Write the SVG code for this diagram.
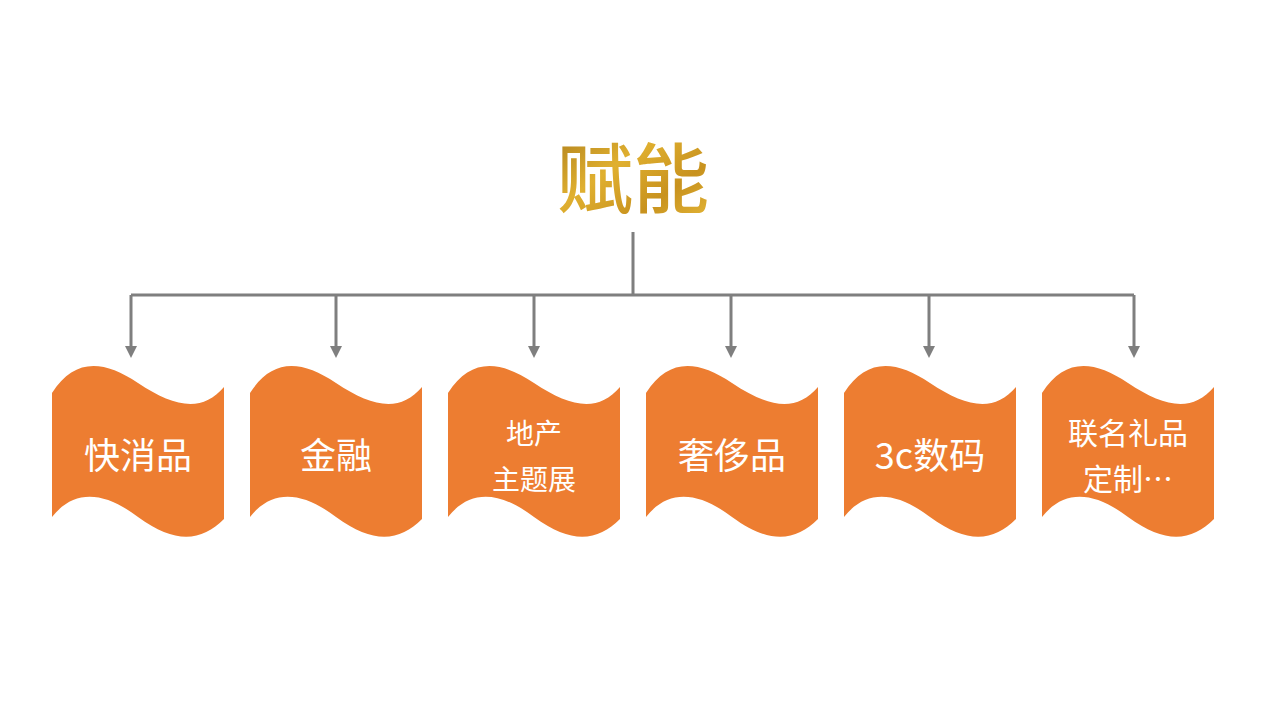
<svg xmlns="http://www.w3.org/2000/svg" width="1280" height="720" viewBox="0 0 1280 720">
<defs>
<linearGradient id="gold" x1="0" y1="0" x2="1" y2="1">
<stop offset="0" stop-color="#a8791a"/><stop offset="0.4" stop-color="#e0b030"/><stop offset="0.7" stop-color="#c8921e"/><stop offset="1" stop-color="#e8bb3a"/>
</linearGradient>
<marker id="ah" markerWidth="12" markerHeight="12" refX="6" refY="6" orient="auto" markerUnits="userSpaceOnUse" viewBox="0 0 12 12"><path d="M0,0 L12,6 L0,12 Z" fill="#7f7f7f"/></marker>
<path id="wave" d="M0,28 C22,-6 50,-6 86,18 C122,42 150,48 172,22 L172,154 C150,176 124,180 86,152 C52,126 22,124 0,152 Z"/>
</defs>
<style>
.box{fill:#ed7d31}
.t{font-family:"Noto Sans CJK SC","Liberation Sans",sans-serif;fill:#fff;text-anchor:middle}
.c{stroke:#7f7f7f;stroke-width:3;fill:none}
</style>
<text x="633" y="207" font-family="Noto Sans CJK SC, sans-serif" font-size="76" font-weight="500" fill="url(#gold)" text-anchor="middle">赋能</text>
<g id="connectors">
<path class="c" d="M633,232 V295 M131,295 H1134"/>
<path class="c" d="M131,295 V352" marker-end="url(#ah)"/>
<path class="c" d="M336,295 V352" marker-end="url(#ah)"/>
<path class="c" d="M534,295 V352" marker-end="url(#ah)"/>
<path class="c" d="M731,295 V352" marker-end="url(#ah)"/>
<path class="c" d="M929,295 V352" marker-end="url(#ah)"/>
<path class="c" d="M1134,295 V352" marker-end="url(#ah)"/>
</g>
<g id="n1"><use href="#wave" class="box" transform="translate(52,365)"/><text class="t" x="138" y="469" font-size="36">快消品</text></g>
<g id="n2"><use href="#wave" class="box" transform="translate(250,365)"/><text class="t" x="336" y="469" font-size="36">金融</text></g>
<g id="n3"><use href="#wave" class="box" transform="translate(448,365)"/><text class="t" x="534" y="444" font-size="28">地产</text><text class="t" x="534" y="490" font-size="28">主题展</text></g>
<g id="n4"><use href="#wave" class="box" transform="translate(646,365)"/><text class="t" x="732" y="469" font-size="36">奢侈品</text></g>
<g id="n5"><use href="#wave" class="box" transform="translate(844,365)"/><text class="t" x="930" y="469" font-size="36">3c数码</text></g>
<g id="n6"><use href="#wave" class="box" transform="translate(1042,365)"/><text class="t" x="1128" y="444" font-size="30">联名礼品</text><text class="t" x="1128" y="490" font-size="30">定制…</text></g>
</svg>
